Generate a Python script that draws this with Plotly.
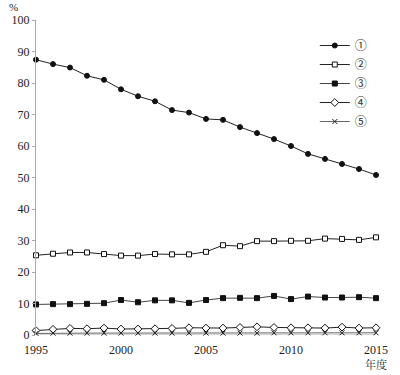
import plotly.graph_objects as go

years = list(range(1995, 2016))
names = ["①", "②", "③", "④", "⑤"]
s1 = [87.4, 86.0, 84.9, 82.3, 81.0, 78.0, 75.8, 74.2, 71.4, 70.6, 68.6,
      68.3, 66.0, 64.1, 62.2, 60.0, 57.5, 55.9, 54.3, 52.7, 50.8]
s2 = [25.3, 25.8, 26.2, 26.2, 25.7, 25.2, 25.2, 25.7, 25.6, 25.6, 26.4,
      28.5, 28.2, 29.8, 29.8, 29.9, 29.9, 30.6, 30.5, 30.2, 31.0]
s3 = [9.7, 9.8, 9.8, 9.9, 10.1, 11.1, 10.4, 11.0, 11.0, 10.2, 11.1,
      11.7, 11.8, 11.7, 12.4, 11.4, 12.2, 11.9, 11.9, 12.0, 11.7]
s4 = [1.4, 1.8, 2.1, 2.0, 2.2, 1.9, 1.9, 2.0, 2.1, 2.3, 2.2,
      2.2, 2.4, 2.6, 2.4, 2.3, 2.3, 2.2, 2.5, 2.2, 2.3]
s5 = [0.5, 0.6, 0.6, 0.6, 0.6, 0.6, 0.6, 0.6, 0.6, 0.6, 0.6,
      0.6, 0.6, 0.6, 0.7, 0.7, 0.7, 0.7, 0.7, 0.7, 0.7]
series = [s1, s2, s3, s4, s5]
y_ticks = [0, 10, 20, 30, 40, 50, 60, 70, 80, 90, 100]
x_ticks = [1995, 2000, 2005, 2010, 2015]

styles = [
    dict(symbol="circle", edge="#111", fill="#111", line="#222", size=5),
    dict(symbol="square", edge="#111", fill="#fff", line="#222", size=5),
    dict(symbol="square", edge="#111", fill="#111", line="#444", size=5),
    dict(symbol="diamond", edge="#111", fill="#fff", line="#222", size=6),
    dict(symbol="x-thin", edge="#222", fill="#222", line="#666", size=5),
]

fig = go.Figure()
for nm, s, st in zip(names, series, styles):
    fig.add_trace(go.Scatter(
        x=years, y=s, name=nm, mode="lines+markers", cliponaxis=False,
        line=dict(color=st["line"], width=1),
        marker=dict(symbol=st["symbol"], size=st["size"], color=st["fill"],
                    line=dict(color=st["edge"], width=1)),
    ))

serif = "Liberation Serif, Noto Serif CJK JP, Noto Sans CJK JP, serif"
fig.update_layout(
    width=400, height=375,
    margin=dict(l=31, r=17, t=20, b=40),
    paper_bgcolor="white", plot_bgcolor="white",
    font=dict(family=serif, size=12, color="#222"),
    showlegend=True,
    legend=dict(x=0.82, y=0.965, xanchor="left", yanchor="top",
                font=dict(size=12, color="#333",
                          family="Noto Sans CJK JP, Liberation Serif, serif"),
                itemwidth=30, bgcolor="rgba(0,0,0,0)", tracegroupgap=0),
    xaxis=dict(range=[1995, 2015], tickvals=x_ticks, showgrid=False,
               zeroline=False, showline=False, ticks="",
               ticklabelstandoff=6,
               tickfont=dict(size=12, color="#222")),
    yaxis=dict(range=[0, 100], tickvals=y_ticks, showgrid=False,
               zeroline=False, showline=True, linecolor="#aaa", linewidth=1,
               ticks="outside", ticklen=3, tickcolor="#aaa",
               tickfont=dict(size=12, color="#222")),
)
fig.add_shape(type="line", xref="x", yref="y", x0=1995, x1=2015, y0=0, y1=0,
              line=dict(color="#aaa", width=1), layer="below")
fig.add_annotation(text="%", xref="paper", yref="paper", x=-0.085, y=1.0,
                   yshift=5, xanchor="left", yanchor="bottom",
                   showarrow=False, font=dict(size=11, color="#222"))
fig.add_annotation(text="年度", xref="x", yref="paper", x=2015, y=0,
                   yshift=-21, xanchor="center", yanchor="top",
                   showarrow=False, font=dict(size=11, color="#222"))
fig.write_html("out.html", config={"displayModeBar": False},
               post_script="document.body.style.margin='0';document.body.style.padding='0';")
